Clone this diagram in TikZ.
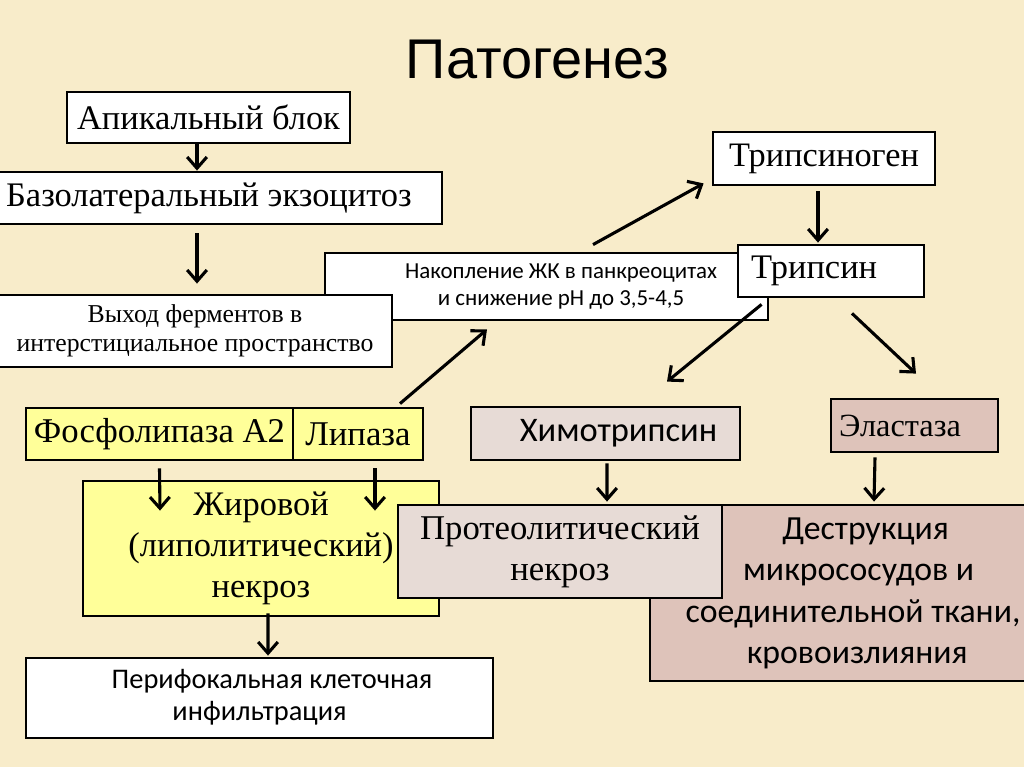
\documentclass[tikz,border=0pt]{standalone}
\usepackage{fontspec}
\setmainfont{Liberation Serif}
\newfontfamily\calfont{Carlito}
\newfontfamily\arifont{Liberation Sans}
\usetikzlibrary{arrows.meta,calc}
\definecolor{bg}{HTML}{F8ECCA}
\definecolor{yel}{HTML}{FFFF99}
\definecolor{pale}{HTML}{E7DBD6}
\definecolor{rose}{HTML}{DEC3BA}
\newcommand\bx[7]{\node[#2, minimum width={((#5)-(#3))*0.025cm}, minimum height={((#6)-(#4))*0.025cm}] (#1) at ({((#3)+(#5))/2},{((#4)+(#6))/2}) {#7};}
\newcommand\fs[2]{\fontsize{#1}{#2}\selectfont}
\newcommand\tb[1]{\begin{tabular}{@{}c@{}}#1\end{tabular}}
\tikzset{
  box/.style={draw=black, line width=2pt, inner sep=0pt, fill=white},
  arr/.style={line width=2.2pt, -{Straight Barb[length=8pt, width=14pt, line width=2.2pt]}},
}
\begin{document}
\begin{tikzpicture}[x=0.025cm, y=-0.025cm]
\useasboundingbox (0,0) rectangle (1024,767);
\clip (0,0) rectangle (1024,767);
\fill[bg] (0,0) rectangle (1024,767);

\node[anchor=base, font=\arifont\fs{39.8pt}{46pt}] (title) at (537.5,79) {Патогенез};

\bx{ap}{box, font=\fs{24.5pt}{28pt}}{67}{92}{350}{143}{Апикальный блок}
\bx{baz}{box, font=\fs{24.5pt}{28pt}}{-24}{172}{442}{224}{Базолатеральный экзоцитоз}
\bx{nak}{box, font=\calfont\fs{16.3pt}{19pt}}{325}{253}{768}{320}{\hspace*{20.6pt}\tb{Накопление ЖК в панкреоцитах\\и снижение рН до 3,5-4,5}}
\bx{vyh}{box, font=\fs{18.3pt}{20.8pt}}{-2}{295}{392}{367}{\tb{Выход ферментов в\\интерстициальное пространство}}
\bx{tgen}{box, font=\fs{24.4pt}{28pt}}{713}{132}{935}{185}{Трипсиноген}
\bx{tryp}{box, font=\fs{24.5pt}{28pt}}{738}{245}{924}{297}{\raisebox{-3pt}{Трипсин}\hspace*{24pt}}
\bx{fos}{box, fill=yel, font=\fs{24.7pt}{28pt}}{26}{408}{293}{460}{Фосфолипаза А2}
\bx{lip}{box, fill=yel, font=\fs{24.7pt}{28pt}}{293}{408}{423}{460}{Липаза}
\bx{chymo}{box, fill=pale, font=\calfont\fs{24.5pt}{28pt}}{471}{407}{740}{460}{\hspace*{18.5pt}Химотрипсин}
\bx{elast}{box, fill=rose, font=\fs{23pt}{28pt}}{831}{399}{998}{452}{Эластаза\hspace*{20.6pt}}
\bx{zhir}{box, fill=yel, font=\fs{24.5pt}{29.3pt}}{83}{481}{439}{616}{\tb{Жировой\\(липолитический)\\некроз}}
\bx{destr}{box, fill=rose, font=\calfont\fs{24pt}{29.5pt}}{650}{505}{1056}{681}{\tb{\hspace*{18pt}Деструкция\\\hspace*{8pt}микрососудов и\\соединительной ткани,\\\hspace*{6pt}кровоизлияния}}
\bx{prot}{box, fill=pale, font=\fs{24.7pt}{29.5pt}}{398}{505}{722}{598}{\tb{Протеолитический\\некроз}}
\bx{peri}{box, font=\calfont\fs{20.2pt}{23pt}}{26}{658}{493}{738}{\tb{\hspace*{17.8pt}Перифокальная клеточная\\инфильтрация}}

\draw[arr] ($(ap.south)+(-11.5,0)$) -- ($(baz.north)+(-12,0)$);
\draw[arr] ($(baz.south)+(-12,8)$) -- ($(vyh.north)+(2,-10)$);
\draw[arr] ($(lip.north)+(42,-3)$) -- ($(nak.south)+(-59.5,8)$);
\draw[arr] ($(nak.north)+(46.5,-7)$) -- ($(tgen.south west)+(-8,-3)$);
\draw[arr] ($(tgen.south)+(-6,5)$) -- ($(tryp.north)+(-13,-1)$);
\draw[arr] ($(tryp.south west)+(25,6)$) -- ($(chymo.north)+(61.5,-24)$);
\draw[arr] ($(tryp.south)+(21,15)$) -- ($(elast.north)+(1.5,-24)$);
\draw[arr] ($(fos.south)+(0,7)$) -- ($(zhir.north)+(-101,31)$);
\draw[arr] ($(lip.south)+(17,7)$) -- ($(zhir.north)+(114,31)$);
\draw[arr] ($(zhir.south)+(7,-4)$) -- ($(peri.north)+(8.5,-1)$);
\draw[arr] ($(chymo.south)+(1.5,2)$) -- ($(prot.north)+(47,-2)$);
\draw[arr] ($(elast.south)+(-39.5,4)$) -- ($(destr.north)+(21,-2)$);
\end{tikzpicture}
\end{document}
